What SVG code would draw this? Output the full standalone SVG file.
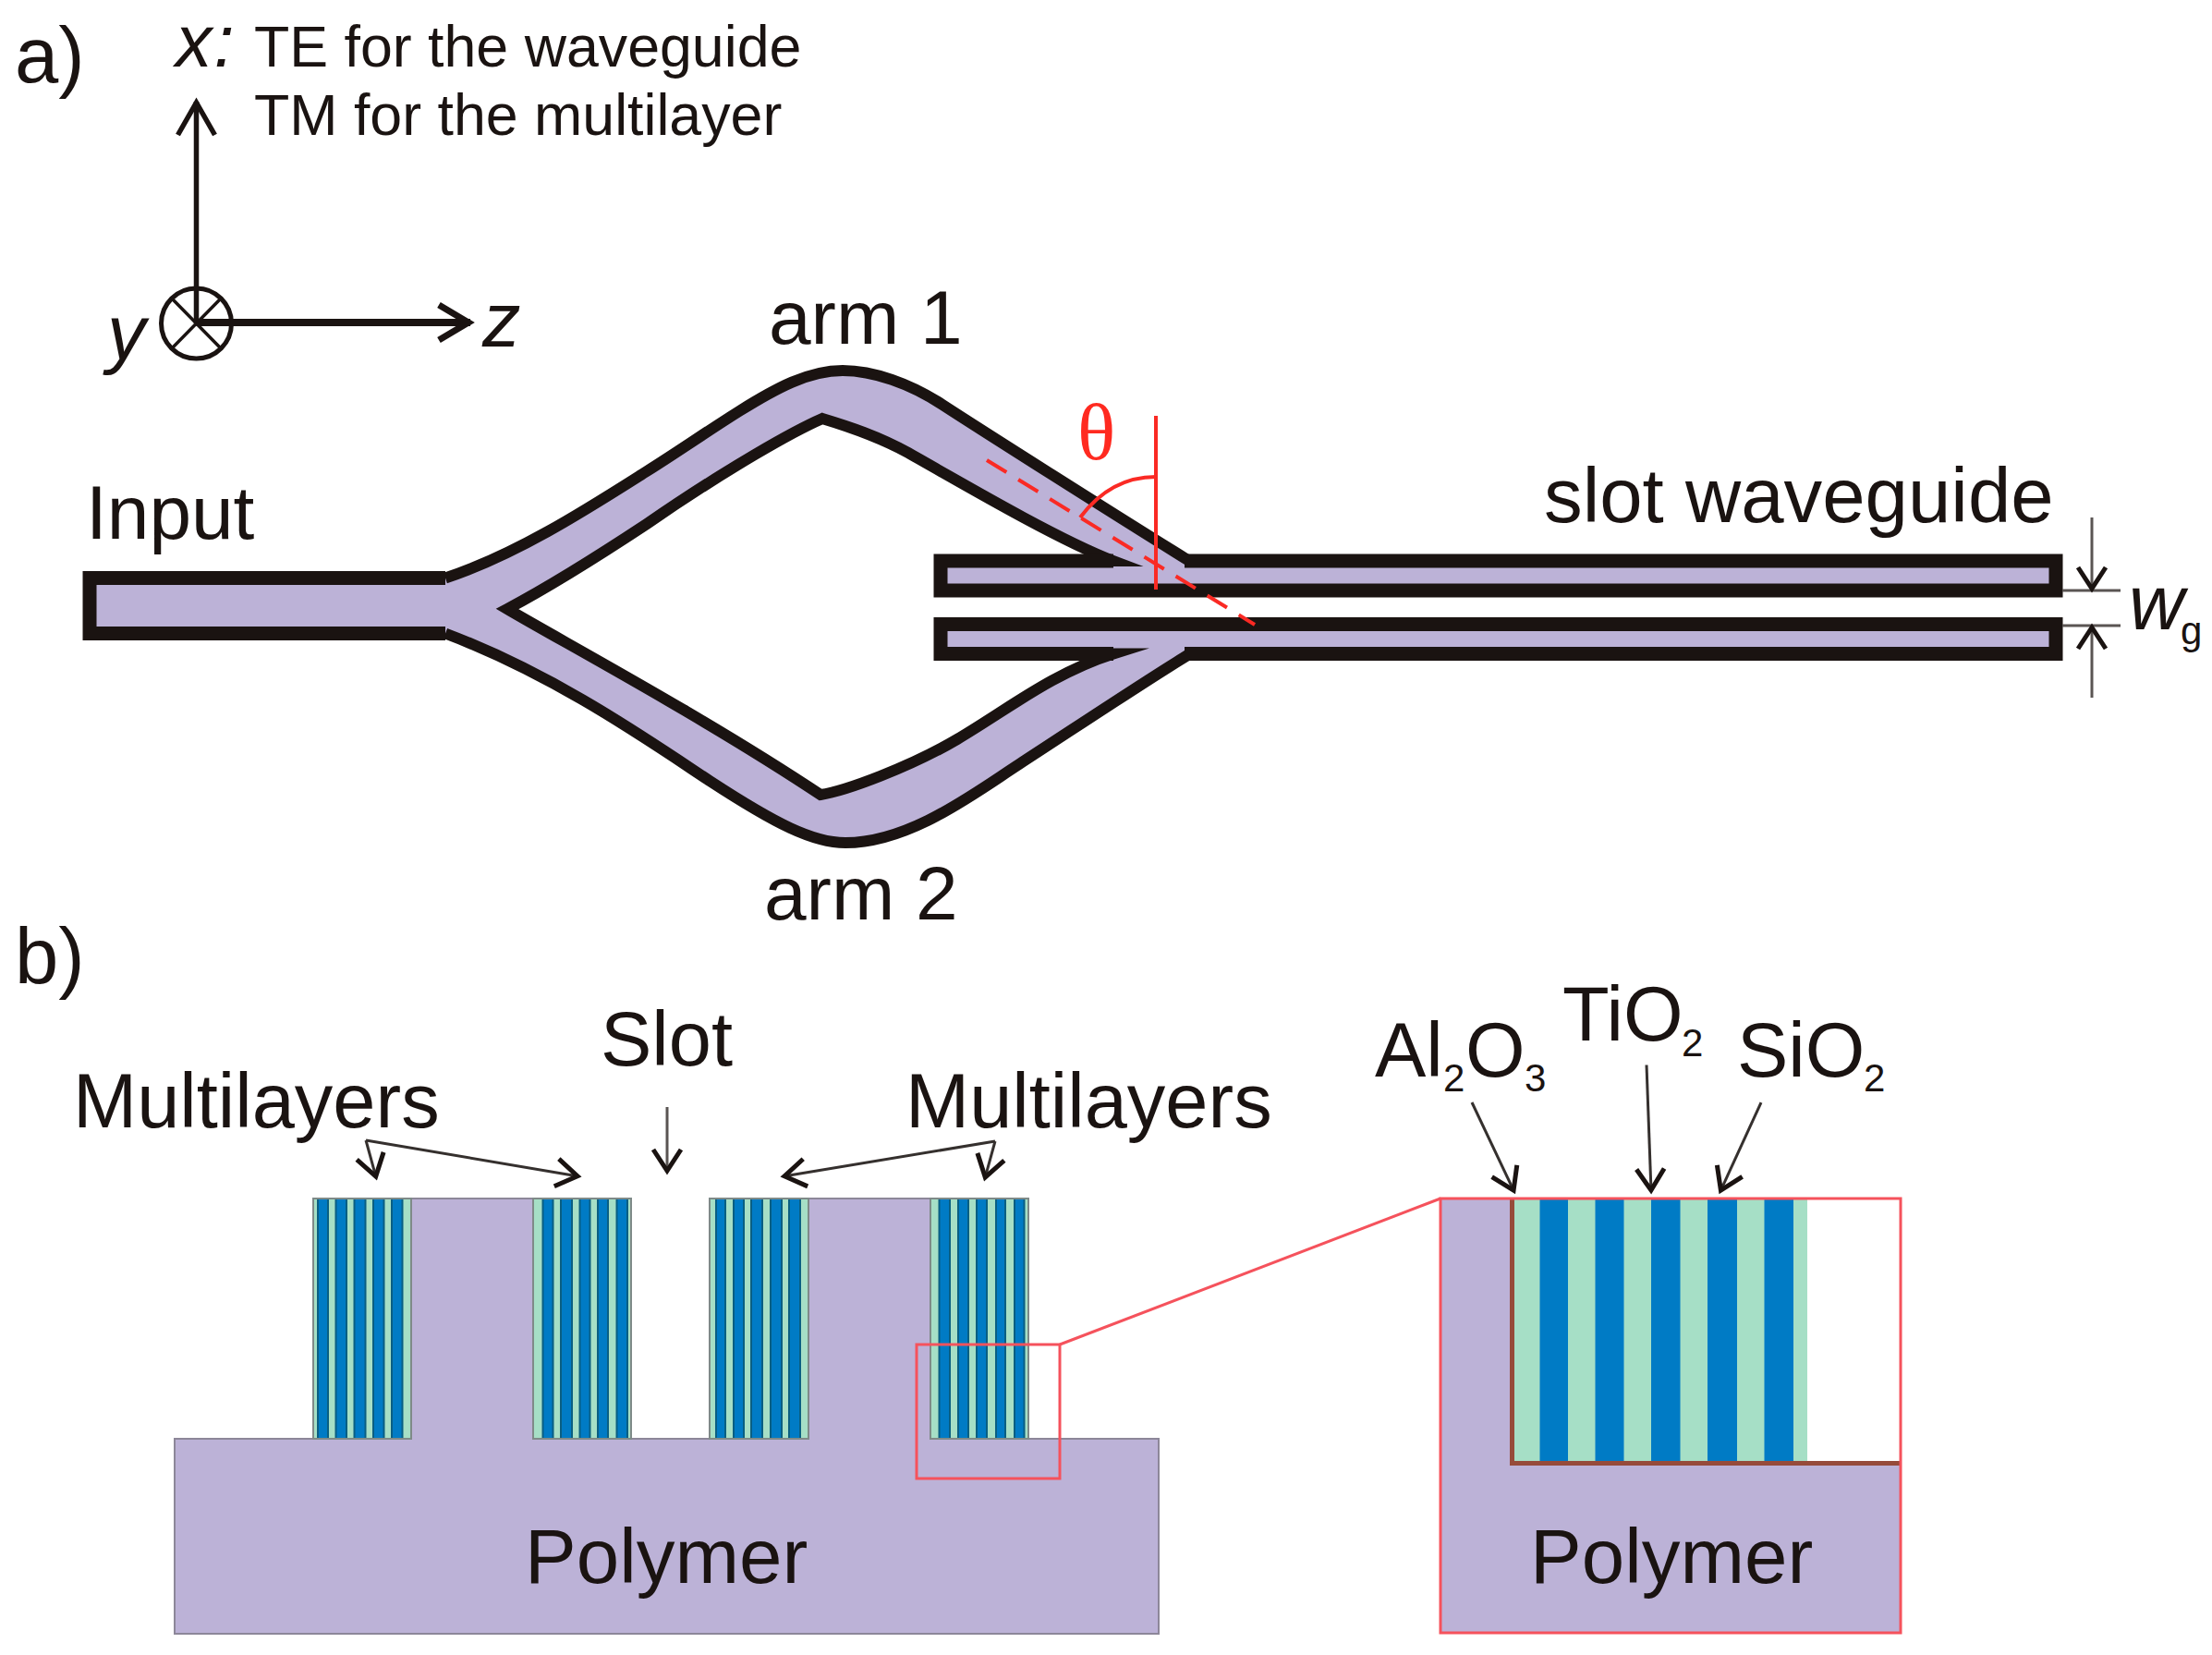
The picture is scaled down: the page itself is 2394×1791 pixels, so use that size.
<svg xmlns="http://www.w3.org/2000/svg" width="2394" height="1791" viewBox="0 0 2394 1791">
<style>
text{font-family:"Liberation Sans",Arial,sans-serif;fill:#1a1311}
.l{font-size:83px}.s{font-size:62.7px}.h{font-size:85px}.sub{font-size:42px}.i{font-style:italic}
.th{font-family:"Liberation Serif","Times New Roman",serif;font-size:86px;fill:#ff2a20}
.lav{fill:#bcb2d7}.gr{fill:#a6dfc6}.bl{fill:#007bc5;stroke:#0a5f82;stroke-width:2}
.post{fill:#bcb2d7;stroke:#8d8799;stroke-width:2}
.pbox{fill:none;stroke:#7f8a88;stroke-width:2}
.bk{fill:none;stroke:#1a1311;stroke-miterlimit:12}
.thin{fill:none;stroke:#35302e;stroke-width:3;marker-end:url(#chev)}
.dim{fill:none;stroke:#5a5553;stroke-width:3}
.red{fill:none;stroke:#fa2a24;stroke-width:4}
.fr{fill:none;stroke:#f5525c;stroke-width:3}
</style>
<defs>
<marker id="chev" markerUnits="userSpaceOnUse" markerWidth="60" markerHeight="60" viewBox="-40 -30 60 60" refX="0" refY="0" orient="auto"><path d="M-24 -15 L-1 0 L-24 15" fill="none" stroke="#1a1311" stroke-width="5"/></marker>
<marker id="axv" markerUnits="userSpaceOnUse" markerWidth="80" markerHeight="80" viewBox="-60 -40 80 80" refX="0" refY="0" orient="auto"><path d="M-36 -20 L-1 0 L-36 20" fill="none" stroke="#1a1311" stroke-width="5.5"/></marker>
<marker id="axh" markerUnits="userSpaceOnUse" markerWidth="80" markerHeight="80" viewBox="-60 -40 80 80" refX="0" refY="0" orient="auto"><path d="M-34 -19 L-2 0 L-34 19" fill="none" stroke="#1a1311" stroke-width="7"/></marker>
</defs>

<g id="panel-a-labels">
<text class="h" x="16" y="89">a)</text>
<text class="i" x="190" y="72" style="font-size:79px;letter-spacing:2px">x:</text>
<text class="s" x="275" y="72">TE for the waveguide</text>
<text class="s" x="275" y="146">TM for the multilayer</text>
<text class="l i" x="116" y="389">y</text>
<text class="l i" x="522" y="375">z</text>
<text class="l" x="832" y="372" style="font-size:82px">arm 1</text>
<text class="l" x="827" y="995" style="font-size:82px">arm 2</text>
<text class="l" x="93" y="583" style="font-size:82px">Input</text>
<text class="l" x="1671" y="565" style="font-size:83.4px">slot waveguide</text>
</g>

<g id="waveguide">
<path class="lav" d="M97 625.5H482C560 600 640 548 700 510C735 488 765 467 800 445C840 420 875 401 912 401C945 401 985 415 1020 438C1060 464 1200 553 1287 607H2225V639H1018V607H1205C1150 586 1060 534 983 490C950 472 920 462 890 453C860 466 790 505 700 567C650 600 600 632 549 659C610 695 760 775 888 860C915 856 985 830 1036 800C1090 768 1140 728 1205 707.5H1018V675.5H2225V707.5H1288C1250 730 1160 790 1103 827C1055 858 985 912 915 912C880 912 840 892 768 845C700 800 600 730 482 685.5H97Z"/>
<path class="bk" stroke-width="12" d="M482 625.5C560 600 640 548 700 510C735 488 765 467 800 445C840 420 875 401 912 401C945 401 985 415 1020 438C1060 464 1200 553 1287 607M1100 607H1205C1150 586 1060 534 983 490C950 472 920 462 890 453C860 466 790 505 700 567C650 600 600 632 549 659C610 695 760 775 888 860C915 856 985 830 1036 800C1090 768 1140 728 1205 707.5H1100M1288 707.5C1250 730 1160 790 1103 827C1055 858 985 912 915 912C880 912 840 892 768 845C700 800 600 730 482 685.5"/>
<path class="bk" stroke-width="15" d="M482 625.5H97V685.5H482"/>
<path class="bk" stroke-width="15" d="M1282 607H2225V639H1018V607H1205"/>
<path class="bk" stroke-width="15" d="M1205 707.5H1018V675.5H2225V707.5H1282"/>
</g>

<g id="theta">
<text class="th" x="1166" y="497">θ</text>
<path class="red" d="M1251 450V638"/>
<path class="red" d="M1251 516C1218 516 1190 532 1169 560"/>
<path class="red" stroke-dasharray="25 15" d="M1068 498L1358 676"/>
</g>

<g id="panel-b-polymer">
<text class="h" x="16" y="1064">b)</text>
<path class="post" d="M189 1557H445V1297H577V1557H875V1297H1007V1557H1254V1768H189Z"/>
<g id="pillar-1">
<rect class="gr" x="339" y="1297" width="106" height="260"/>
<rect class="bl" x="344" y="1297" width="11" height="260"/><rect class="bl" x="363.500" y="1297" width="11.500" height="260"/><rect class="bl" x="383.500" y="1297" width="12" height="260"/><rect class="bl" x="404" y="1297" width="11.500" height="260"/><rect class="bl" x="424" y="1297" width="11.500" height="260"/>
<rect class="pbox" x="339" y="1297" width="106" height="260"/>
</g>
<g id="pillar-2">
<rect class="gr" x="577" y="1297" width="106" height="260"/>
<rect class="bl" x="587.500" y="1297" width="11" height="260"/><rect class="bl" x="607" y="1297" width="12" height="260"/><rect class="bl" x="627.500" y="1297" width="11" height="260"/><rect class="bl" x="647" y="1297" width="11" height="260"/><rect class="bl" x="667.500" y="1297" width="11.500" height="260"/>
<rect class="pbox" x="577" y="1297" width="106" height="260"/>
</g>
<g id="pillar-3">
<rect class="gr" x="768" y="1297" width="107" height="260"/>
<rect class="bl" x="775" y="1297" width="10" height="260"/><rect class="bl" x="794" y="1297" width="11" height="260"/><rect class="bl" x="813" y="1297" width="12" height="260"/><rect class="bl" x="834" y="1297" width="12" height="260"/><rect class="bl" x="854" y="1297" width="12" height="260"/>
<rect class="pbox" x="768" y="1297" width="107" height="260"/>
</g>
<g id="pillar-4">
<rect class="gr" x="1007" y="1297" width="106" height="260"/>
<rect class="bl" x="1016.500" y="1297" width="11.500" height="260"/><rect class="bl" x="1037" y="1297" width="11" height="260"/><rect class="bl" x="1057" y="1297" width="11" height="260"/><rect class="bl" x="1078" y="1297" width="10" height="260"/><rect class="bl" x="1098" y="1297" width="10.500" height="260"/>
<rect class="pbox" x="1007" y="1297" width="106" height="260"/>
</g>
<text class="l" x="568" y="1713" style="font-size:83.5px">Polymer</text>
<text class="l" x="79" y="1220">Multilayers</text>
<text class="l" x="980" y="1220">Multilayers</text>
<text class="l" x="650" y="1153">Slot</text>
<rect class="fr" x="992" y="1455" width="155" height="145"/>
<path class="fr" d="M1147 1455L1559 1297"/>
</g>

<g id="inset">
<path class="lav" d="M1559 1297H1636V1584H2057V1767H1559Z"/>
<rect class="gr" x="1639" y="1297" width="317" height="284"/>
<rect class="bl" x="1666.500" y="1297" width="30.500" height="284" style="stroke:none"/><rect class="bl" x="1726.500" y="1297" width="31" height="284" style="stroke:none"/><rect class="bl" x="1787" y="1297" width="31.500" height="284" style="stroke:none"/><rect class="bl" x="1848" y="1297" width="32" height="284" style="stroke:none"/><rect class="bl" x="1909.500" y="1297" width="31.500" height="284" style="stroke:none"/>
<path fill="none" stroke="#964b3a" stroke-width="5" d="M1636.500 1297V1583.500H2057"/>
<rect class="fr" x="1559" y="1297" width="498" height="470"/>
<text class="l" x="1656" y="1713" style="font-size:83.5px">Polymer</text>
<text class="l" x="1488" y="1165">Al<tspan class="sub" x="1562" dy="16">2</tspan><tspan x="1586" dy="-16">O</tspan><tspan class="sub" x="1650" dy="16">3</tspan></text>
<text class="l" x="1691" y="1126">TiO<tspan class="sub" x="1820" dy="17">2</tspan></text>
<text class="l" x="1880" y="1165">SiO<tspan class="sub" x="2017" dy="16">2</tspan></text>
</g>

<g id="wg-label">
<text class="l i" x="2304" y="681">w</text>
<text class="i" x="2360" y="697" style="font-size:42px;font-style:normal">g</text>
</g>

<g id="connectors">
<circle cx="212.500" cy="350" r="38" fill="none" stroke="#1a1311" stroke-width="5"/>
<path fill="none" stroke="#1a1311" stroke-width="3.500" d="M186 323L239 377M239 323L186 377"/>
<path d="M212.500 350V110" fill="none" stroke="#1a1311" stroke-width="5.500" marker-end="url(#axv)"/>
<path d="M212.500 349H509" fill="none" stroke="#1a1311" stroke-width="8" marker-end="url(#axh)"/>
<path class="dim" d="M2232 639H2295M2232 677H2295"/>
<path class="dim" d="M2264 560V638" marker-end="url(#chev)"/>
<path class="dim" d="M2264 755V678" marker-end="url(#chev)"/>
<path class="thin" d="M396 1234L407 1274"/>
<path class="thin" d="M396 1234L626 1273"/>
<path class="dim" d="M722 1198V1268" marker-end="url(#chev)"/>
<path class="thin" d="M1077 1235L848 1273"/>
<path class="thin" d="M1077 1235L1066 1275"/>
<path class="thin" d="M1593 1193L1638.500 1289"/>
<path class="thin" d="M1782 1152.500L1787 1289"/>
<path class="thin" d="M1906 1193L1862 1289"/>
</g>
</svg>
